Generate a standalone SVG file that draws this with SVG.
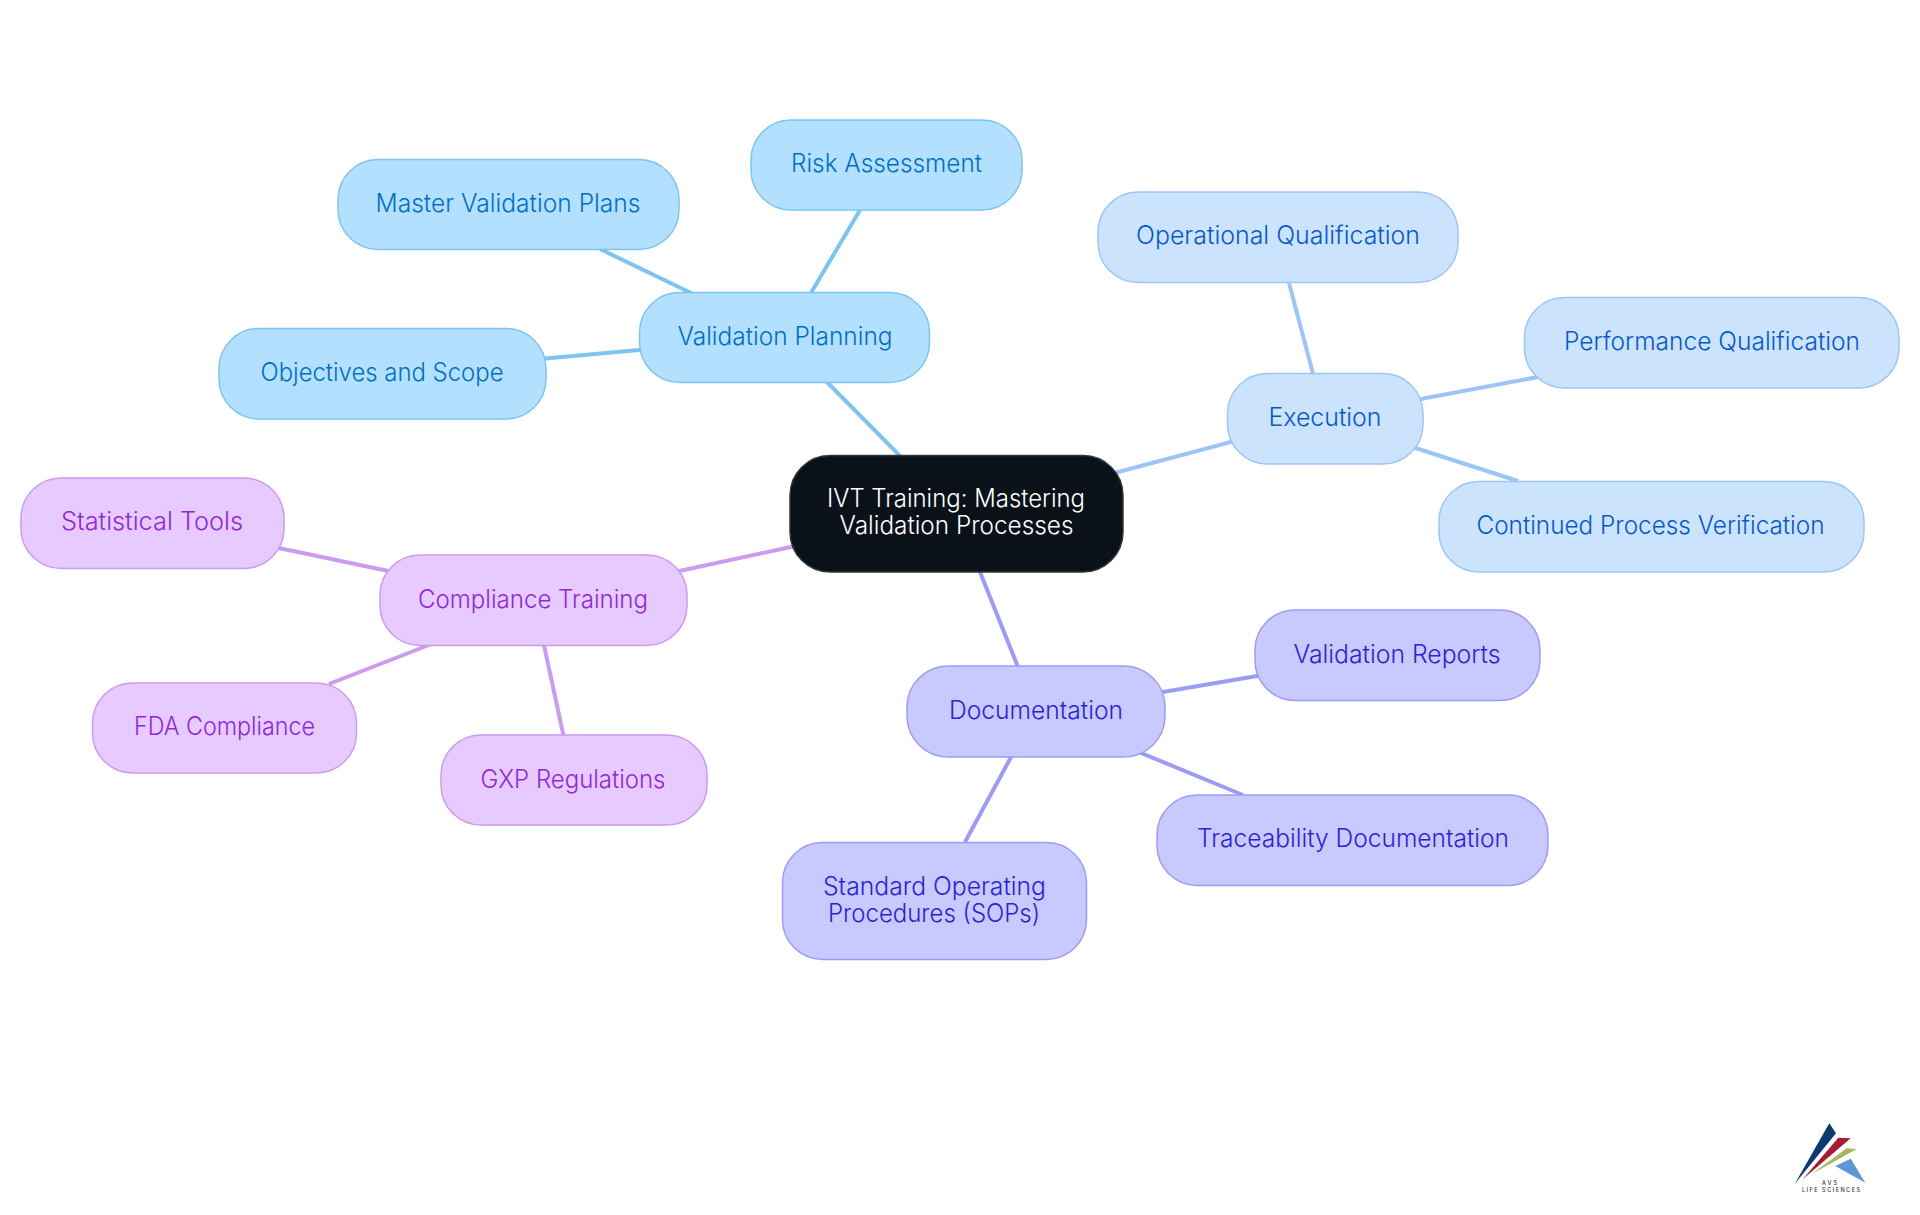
<svg xmlns="http://www.w3.org/2000/svg" width="1920" height="1215" viewBox="0 0 1920 1215">
<style>
text{font-family:"Inter","Noto Sans","Liberation Sans",sans-serif;font-size:25px;font-weight:300;text-anchor:middle}
.n rect{stroke-width:1.5}
.c line{stroke-width:4;fill:none}
.a rect{fill:#b3e0ff;stroke:#7dc4f0}.a text{fill:#006fc4}
.b rect{fill:#cce3fd;stroke:#9cc5f5}.b text{fill:#0659c8}
.d rect{fill:#c8c9ff;stroke:#9d9cf5}.d text{fill:#2a24cf}
.e rect{fill:#e7caff;stroke:#c99cf0}.e text{fill:#8f28d8}
.r rect{fill:#0b1119;stroke:#30363d}.r text{fill:#fff}
.ca line{stroke:#7dc4f0}.cb line{stroke:#9cc5f5}.cd line{stroke:#9d9cf5}.ce line{stroke:#c99cf0}
.l text{font-size:5.500px;font-weight:500;fill:#333}
</style>
<rect width="1920" height="1215" fill="#fff"/>
<g id="connectors" class="c">
<g class="ca"><line x1="821" y1="376" x2="905" y2="461"/><line x1="805" y1="303" x2="860" y2="210"/><line x1="714" y1="304" x2="600" y2="249"/><line x1="650" y1="349" x2="540" y2="359"/></g>
<g class="cb"><line x1="1107" y1="475" x2="1242" y2="439"/><line x1="1316" y1="385" x2="1289" y2="283"/><line x1="1410" y1="401" x2="1538" y2="377"/><line x1="1403" y1="444" x2="1518" y2="481"/></g>
<g class="cd"><line x1="976" y1="562" x2="1020" y2="672"/><line x1="1151" y1="694" x2="1263" y2="675"/><line x1="1129" y1="748" x2="1243" y2="795"/><line x1="1016" y1="748" x2="965" y2="842"/></g>
<g class="ce"><line x1="800" y1="545" x2="670" y2="573"/><line x1="274" y1="547" x2="398" y2="573"/><line x1="434" y1="643" x2="329" y2="684"/><line x1="542" y1="636" x2="564" y2="738"/></g>
</g>
<g id="root" class="n r"><rect x="790" y="455.500" width="333" height="116.500" rx="40"/><text x="956" y="507" textLength="258" lengthAdjust="spacingAndGlyphs">IVT Training: Mastering</text><text x="956.500" y="534" textLength="234" lengthAdjust="spacingAndGlyphs">Validation Processes</text></g>
<g id="validation-planning" class="n a"><rect x="639.500" y="292.500" width="290" height="90" rx="40"/><text x="785" y="345" textLength="215" lengthAdjust="spacingAndGlyphs">Validation Planning</text></g>
<g id="risk-assessment" class="n a"><rect x="751" y="120" width="271" height="90" rx="40"/><text x="886.500" y="172" textLength="191" lengthAdjust="spacingAndGlyphs">Risk Assessment</text></g>
<g id="master-validation-plans" class="n a"><rect x="338" y="159.500" width="341" height="90" rx="40"/><text x="508" y="212" textLength="265" lengthAdjust="spacingAndGlyphs">Master Validation Plans</text></g>
<g id="objectives-and-scope" class="n a"><rect x="219" y="328.500" width="327" height="90.500" rx="40"/><text x="382" y="381" textLength="243" lengthAdjust="spacingAndGlyphs">Objectives and Scope</text></g>
<g id="execution" class="n b"><rect x="1227.500" y="373.500" width="195.500" height="90.500" rx="40"/><text x="1325" y="426" textLength="113" lengthAdjust="spacingAndGlyphs">Execution</text></g>
<g id="operational-qualification" class="n b"><rect x="1098" y="192" width="360" height="90.500" rx="40"/><text x="1278" y="244" textLength="284" lengthAdjust="spacingAndGlyphs">Operational Qualification</text></g>
<g id="performance-qualification" class="n b"><rect x="1524.500" y="297.500" width="374.500" height="90.500" rx="40"/><text x="1712" y="350" textLength="296" lengthAdjust="spacingAndGlyphs">Performance Qualification</text></g>
<g id="continued-process-verification" class="n b"><rect x="1439" y="481.500" width="425" height="90.500" rx="40"/><text x="1650.500" y="534" textLength="348" lengthAdjust="spacingAndGlyphs">Continued Process Verification</text></g>
<g id="documentation" class="n d"><rect x="907" y="666" width="258" height="91" rx="41"/><text x="1036" y="719" textLength="174" lengthAdjust="spacingAndGlyphs">Documentation</text></g>
<g id="validation-reports" class="n d"><rect x="1255" y="610" width="285" height="90.500" rx="40"/><text x="1397" y="663" textLength="207" lengthAdjust="spacingAndGlyphs">Validation Reports</text></g>
<g id="traceability-documentation" class="n d"><rect x="1157" y="795" width="391" height="90.500" rx="40"/><text x="1353" y="847" textLength="312" lengthAdjust="spacingAndGlyphs">Traceability Documentation</text></g>
<g id="sops" class="n d"><rect x="782.500" y="842.500" width="304" height="117" rx="40"/><text x="934.500" y="895" textLength="223" lengthAdjust="spacingAndGlyphs">Standard Operating</text><text x="934" y="922" textLength="212" lengthAdjust="spacingAndGlyphs">Procedures (SOPs)</text></g>
<g id="compliance-training" class="n e"><rect x="380" y="555" width="307" height="90.500" rx="40"/><text x="533" y="608" textLength="230" lengthAdjust="spacingAndGlyphs">Compliance Training</text></g>
<g id="statistical-tools" class="n e"><rect x="21" y="478" width="263" height="90.500" rx="40"/><text x="152" y="530" textLength="182" lengthAdjust="spacingAndGlyphs">Statistical Tools</text></g>
<g id="fda-compliance" class="n e"><rect x="92.500" y="683" width="264" height="90" rx="40"/><text x="224.500" y="735" textLength="181" lengthAdjust="spacingAndGlyphs">FDA Compliance</text></g>
<g id="gxp-regulations" class="n e"><rect x="441" y="735" width="266" height="90" rx="40"/><text x="573" y="788" textLength="185" lengthAdjust="spacingAndGlyphs">GXP Regulations</text></g>
<g id="logo" class="l">
<polygon points="1829.300,1123.300 1836,1133.300 1794.700,1184" fill="#0d3a70"/>
<polygon points="1838.300,1137.700 1850.700,1138.300 1802.700,1179.300" fill="#a51d35"/>
<polygon points="1846.700,1148.300 1856.700,1149 1811.700,1174" fill="#a5b85c"/>
<polygon points="1850.700,1158.700 1865.300,1182.700 1835.300,1166" fill="#5c97d8"/>
<text x="1829.500" y="1184.500" textLength="15">AVS</text>
<text x="1831" y="1192" textLength="58">LIFE SCIENCES</text>
</g>
</svg>
